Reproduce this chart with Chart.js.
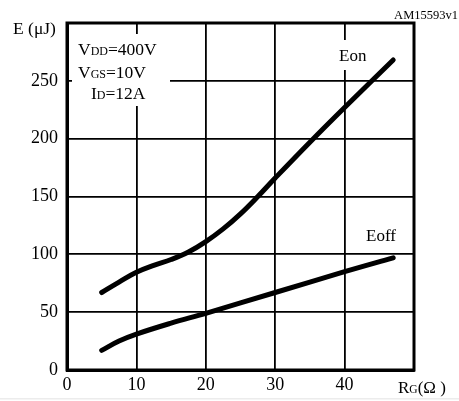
<!DOCTYPE html>
<html>
<head>
<meta charset="utf-8">
<script src="https://cdn.jsdelivr.net/npm/chart.js@4"></script>
<style>
  html, body { margin: 0; padding: 0; background: #fff; }
  canvas { display: block; }
</style>
</head>
<body>
<canvas id="chart" width="459" height="401"></canvas>
<script>
// values
const eonRg = [5, 7.5, 10, 12.5, 15, 17.5, 20, 22.5, 25, 27.5, 30, 35, 40, 47];
const eonE = [67, 76, 84.5, 90.5, 95.5, 102, 111, 122, 135, 150, 166, 197, 227, 268];
const eoffRg = [5, 7.5, 10, 15, 20, 30, 40, 47];
const eoffE = [17, 25, 31, 40.5, 49, 67, 85, 97];
const xTicks = [0, 10, 20, 30, 40];
const yTicks = [0, 50, 100, 150, 200, 250];

const SERIF = '"Liberation Serif", "DejaVu Serif", serif';

const toPoints = (xs, ys) => xs.map((x, i) => ({ x, y: ys[i] }));

// draws a run of [text, size] pieces left to right on one baseline
function drawRuns(ctx, runs, x, y) {
  runs.forEach(([text, size]) => {
    ctx.font = size + 'px ' + SERIF;
    ctx.fillText(text, x, y);
    x += ctx.measureText(text).width;
  });
}

const decorations = {
  id: 'decorations',
  beforeDatasetsDraw(chart) {
    const { ctx, chartArea: a } = chart;
    ctx.save();
    // white panels behind the condition text and the Eon label
    ctx.fillStyle = '#fff';
    ctx.fillRect(a.left + 5, 34, 98, 72);
    ctx.fillRect(336, 40, 32, 30);
    // frame round the plot
    ctx.strokeStyle = '#000';
    ctx.lineWidth = 3;
    ctx.strokeRect(a.left, a.top, a.right - a.left, a.bottom - a.top);
    ctx.restore();
  },
  afterDraw(chart) {
    const { ctx, scales } = chart;
    ctx.save();
    ctx.fillStyle = '#000';
    ctx.textBaseline = 'alphabetic';
    ctx.textAlign = 'left';

    drawRuns(ctx, [['E', 17.5], [' (μJ)', 17.5]], 13, 34);

    drawRuns(ctx, [['V', 17.5], ['DD', 12], ['=400V', 17.5]], 78, 55);
    drawRuns(ctx, [['V', 17.5], ['GS', 12], ['=10V', 17.5]], 78, 78);
    drawRuns(ctx, [['I', 17.5], ['D', 12], ['=12A', 17.5]], 91, 99);

    ctx.font = '17px ' + SERIF;
    ctx.fillText('Eon', 339, 61);
    ctx.fillText('Eoff', 366, 241);

    ctx.font = '12.5px ' + SERIF;
    ctx.textAlign = 'right';
    ctx.fillText('AM15593v1', 458, 19);

    // x axis name sits where the 50 label would be
    ctx.textAlign = 'left';
    const x50 = scales.x.getPixelForValue(50);
    drawRuns(ctx, [['R', 17], ['G', 11.5], ['(Ω )', 17]], x50 - 16, 393);

    // faint page edge at the bottom
    ctx.fillStyle = '#ececec';
    ctx.fillRect(0, 398, chart.width, 1.5);
    ctx.restore();
  }
};

new Chart(document.getElementById('chart'), {
  type: 'scatter',
  data: {
    datasets: [
      {
        label: 'Eon',
        data: toPoints(eonRg, eonE),
        showLine: true,
        borderColor: '#000',
        borderWidth: 5,
        borderCapStyle: 'round',
        tension: 0.4,
        pointRadius: 0
      },
      {
        label: 'Eoff',
        data: toPoints(eoffRg, eoffE),
        showLine: true,
        borderColor: '#000',
        borderWidth: 5,
        borderCapStyle: 'round',
        tension: 0.4,
        pointRadius: 0
      }
    ]
  },
  options: {
    responsive: false,
    animation: false,
    layout: { padding: { top: 23, right: 45, left: 0, bottom: 0 } },
    plugins: {
      legend: { display: false },
      tooltip: { enabled: false }
    },
    scales: {
      x: {
        type: 'linear',
        min: 0,
        max: 50,
        afterFit: (scale) => { scale.height = 31; },
        afterBuildTicks: (scale) => {
          scale.ticks = xTicks.concat([50]).map((v) => ({ value: v }));
        },
        ticks: {
          color: '#000',
          font: { family: SERIF, size: 18 },
          padding: 4,
          maxRotation: 0,
          callback: (v) => (xTicks.includes(v) ? String(v) : '')
        },
        grid: { color: '#000', lineWidth: 1.8, drawTicks: false },
        border: { display: true, color: '#000', width: 3 }
      },
      y: {
        type: 'linear',
        min: 0,
        max: 300,
        afterFit: (scale) => { scale.width = 67; },
        afterBuildTicks: (scale) => {
          scale.ticks = yTicks.concat([300]).map((v) => ({ value: v }));
        },
        ticks: {
          color: '#000',
          font: { family: SERIF, size: 18 },
          padding: 9,
          callback: (v) => (yTicks.includes(v) ? String(v) : '')
        },
        grid: { color: '#000', lineWidth: 1.8, drawTicks: false },
        border: { display: true, color: '#000', width: 3 }
      }
    }
  },
  plugins: [decorations]
});
</script>
</body>
</html>
